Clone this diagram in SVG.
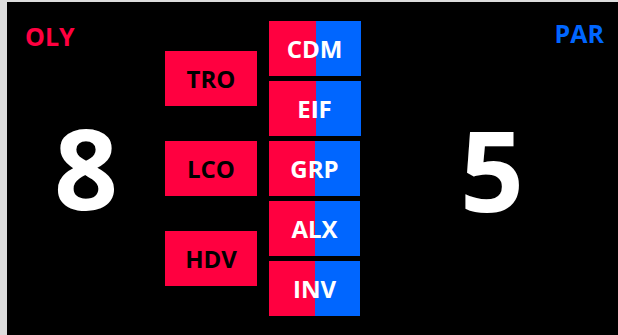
<svg xmlns="http://www.w3.org/2000/svg" width="618" height="335" viewBox="0 0 618 335">
<style>
.lbl{font-family:"Open Sans","Noto Sans","Liberation Sans",sans-serif;font-weight:bold;font-size:24px;text-anchor:middle;dominant-baseline:central}
.red{fill:#FF0040}
.blue{fill:#0066FF}
.dark{fill:#000}
.white{fill:#fff}
.score{font-family:"Open Sans","Noto Sans","Liberation Sans",sans-serif;font-weight:bold;font-size:112px;text-anchor:middle;fill:#fff}
.team{font-family:"Open Sans","Noto Sans","Liberation Sans",sans-serif;font-weight:bold;font-size:25px}
</style>
<rect x="0" y="0" width="618" height="335" fill="#DDDDDD"/>
<rect x="7" y="2" width="611" height="333" fill="#000"/>
<text class="team red" x="25" y="46">OLY</text>
<text class="team blue" x="604" y="43" text-anchor="end">PAR</text>
<text class="score" x="86" y="210">8</text>
<text class="score" x="492" y="212">5</text>
<g id="TRO"><rect class="red" x="165" y="51" width="92" height="55"/><text class="lbl dark" x="211" y="78.5">TRO</text></g>
<g id="LCO"><rect class="red" x="165" y="141" width="92" height="55"/><text class="lbl dark" x="211" y="168.5">LCO</text></g>
<g id="HDV"><rect class="red" x="165" y="231" width="92" height="55"/><text class="lbl dark" x="211" y="258.5">HDV</text></g>
<g id="CDM"><rect class="red" x="269" y="21" width="47" height="55"/><rect class="blue" x="316" y="21" width="45" height="55"/><text class="lbl white" x="314.5" y="48.5">CDM</text></g>
<g id="EIF"><rect class="red" x="269" y="81" width="47" height="55"/><rect class="blue" x="316" y="81" width="45" height="55"/><text class="lbl white" x="314.5" y="108.5">EIF</text></g>
<g id="GRP"><rect class="red" x="269" y="141" width="46" height="55"/><rect class="blue" x="315" y="141" width="45" height="55"/><text class="lbl white" x="314.5" y="168.5">GRP</text></g>
<g id="ALX"><rect class="red" x="269" y="201" width="46" height="55"/><rect class="blue" x="315" y="201" width="45" height="55"/><text class="lbl white" x="314.5" y="228.5">ALX</text></g>
<g id="INV"><rect class="red" x="269" y="261" width="46" height="55"/><rect class="blue" x="315" y="261" width="45" height="55"/><text class="lbl white" x="314.5" y="288.5">INV</text></g>
<g id="connectors"></g>
</svg>
